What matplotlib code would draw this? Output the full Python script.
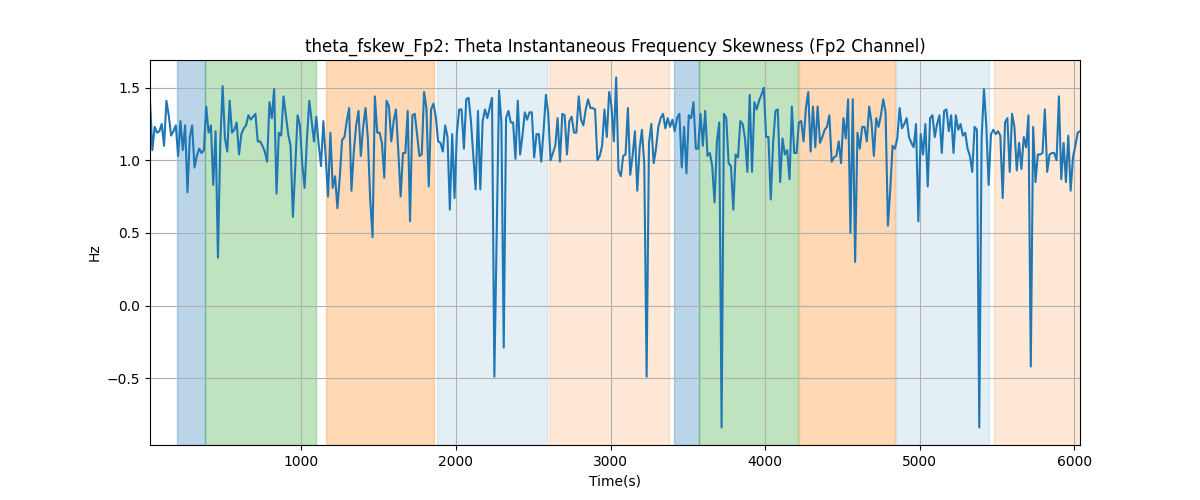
import numpy as np
import matplotlib
matplotlib.use("Agg")
from matplotlib import pyplot as plt

# theta frequency skewness (one sample ~ every 15 s)
skew = [
    1.41, 1.07, 1.23, 1.19, 1.20, 1.25, 1.10, 1.41, 1.31, 1.17,
    1.20, 1.24, 1.03, 1.27, 1.07, 1.24, 0.78, 1.16, 1.24, 0.95,
    1.03, 1.08, 1.05, 1.07, 1.37, 1.19, 1.24, 0.83, 1.20, 0.33,
    1.12, 1.51, 1.15, 1.06, 1.41, 1.19, 1.21, 1.26, 1.04, 1.18,
    1.22, 1.24, 1.31, 1.28, 1.30, 1.32, 1.13, 1.13, 1.10, 1.06,
    0.99,
    1.40, 1.29, 1.49, 0.77, 1.19, 1.17, 1.44, 1.31, 1.18, 1.10,
    0.61, 0.95, 1.31, 1.24, 0.97, 0.81, 1.15, 1.41, 1.27, 1.13,
    1.30, 1.11, 0.96, 1.27, 1.02, 0.75, 1.19, 0.81, 0.89, 0.67,
    0.88, 1.14, 1.16, 1.27, 1.36, 0.79, 1.06, 1.24, 1.34, 1.03,
    1.23, 1.36, 1.15, 0.73, 0.47, 1.44, 1.19, 1.19, 1.12, 0.88,
    1.41, 1.37, 1.13, 1.27, 1.35, 1.06, 0.75, 1.05, 1.05, 1.34,
    0.58, 1.31, 1.32, 1.18, 1.03, 1.04, 1.47, 1.36, 0.82, 1.35,
    1.39, 1.30, 1.13, 1.12, 1.06, 1.24, 1.16, 0.66, 1.18, 0.74,
    1.19, 1.35, 1.35, 1.08, 1.42, 1.43, 1.27, 1.04, 0.80, 1.34,
    0.80, 1.27, 1.35, 1.29, 1.36, 1.43,
    -0.49, 0.50,
    1.48, 1.26, -0.29, 1.29, 1.34, 1.26, 1.26, 1.01, 1.41, 1.04,
    1.17, 1.33, 1.28, 1.33, 1.33, 1.02, 1.18, 1.18, 0.99, 1.20,
    1.45, 1.32, 1.00, 1.05, 1.10, 1.29, 0.99, 1.32, 1.31, 1.04,
    1.27, 1.30, 1.19, 1.19, 1.44, 1.28, 1.24, 1.35, 1.42, 1.36,
    1.36, 1.35, 1.00, 1.03, 1.10, 1.35, 1.16, 1.47, 1.37, 1.13,
    1.57, 0.93, 0.89, 1.03, 1.04, 1.36, 0.90, 1.03, 1.20, 0.79,
    1.08, 1.21, 0.97, -0.49,
    1.12, 1.25, 0.98, 1.08, 1.23, 1.29, 1.32, 1.22, 1.29, 1.23,
    1.28, 1.20, 1.29, 1.32, 0.95, 1.23, 0.91, 1.31, 1.29, 1.40,
    1.08, 1.08, 1.32, 1.10, 1.34, 1.03, 1.05, 0.96, 0.71, 1.13,
    1.26, -0.84, 1.32, 1.29, 0.98, 0.96, 0.66, 1.04, 1.02, 1.27,
    1.25, 1.15, 0.92, 1.45, 0.92, 1.40, 1.35, 1.41, 1.45, 1.50,
    1.16, 1.16, 0.73, 1.12, 1.34, 1.35, 0.85, 1.15, 1.04, 1.07,
    0.87, 1.37, 1.05, 1.05, 1.26, 1.27,
    1.13, 1.36, 1.47, 1.06, 1.37, 1.09, 1.37, 1.12, 1.16, 1.21,
    1.23, 1.31, 0.99, 1.02, 1.03, 1.13, 0.98, 1.29, 1.15, 1.42,
    0.50, 1.42, 0.30, 1.19, 1.08, 1.23, 1.23, 1.13, 1.37, 1.26,
    1.03, 1.29, 1.23, 1.31, 1.42, 1.33, 0.55, 0.80, 1.10, 1.08,
    1.15, 1.36, 1.22, 1.25, 1.29, 1.16, 1.12, 1.09, 1.25, 0.58,
    1.18, 1.04, 1.25, 0.82, 1.29, 1.31, 1.16, 1.25, 1.31, 1.05,
    1.34, 1.35, 1.20, 1.31, 1.05, 1.31, 1.21, 1.25, 1.17, 1.19,
    1.08, 1.03, 0.92, 1.23, 1.21, -0.84, 1.15, 1.49, 1.24, 0.83,
    1.18, 1.21, 1.18, 1.20, 1.17, 0.74, 1.26, 1.29, 0.92, 1.32,
    1.23, 0.93, 1.12, 0.94, 1.16, 1.09, 1.31, -0.42, 1.23, 0.85,
    1.04, 1.04, 1.05, 1.35, 0.92, 1.04, 1.05, 1.05, 1.00, 1.44,
    0.87, 1.12, 0.85, 1.17, 0.79, 1.02, 1.10, 1.19, 1.20,
]
t_start = 22
t_end = 6036

# shaded stages: (start, end, colour, alpha)
stage_start = [199, 377, 1162, 1878, 2605, 3408, 3570, 4217, 4844, 5479]
stage_end = [377, 1095, 1861, 2590, 3375, 3570, 4210, 4838, 5446, 6100]
stage_color = ["C0", "C2", "C1", "C0", "C1", "C0", "C2", "C1", "C0", "C1"]
stage_alpha = [0.3, 0.3, 0.3, 0.12, 0.17, 0.3, 0.3, 0.3, 0.12, 0.17]

t = np.linspace(t_start, t_end, len(skew))

fig, ax = plt.subplots(figsize=(12, 5), dpi=100)
for s, e, c, a in zip(stage_start, stage_end, stage_color, stage_alpha):
    ax.axvspan(s, e, color=c, alpha=a)
ax.plot(t, skew, color="C0", linewidth=1.5)

ax.set_xlim(t[0], t[-1])
ax.grid(True)
ax.set_title("theta_fskew_Fp2: Theta Instantaneous Frequency Skewness (Fp2 Channel)")
ax.set_xlabel("Time(s)")
ax.set_ylabel("Hz")

fig.savefig("out.png")
